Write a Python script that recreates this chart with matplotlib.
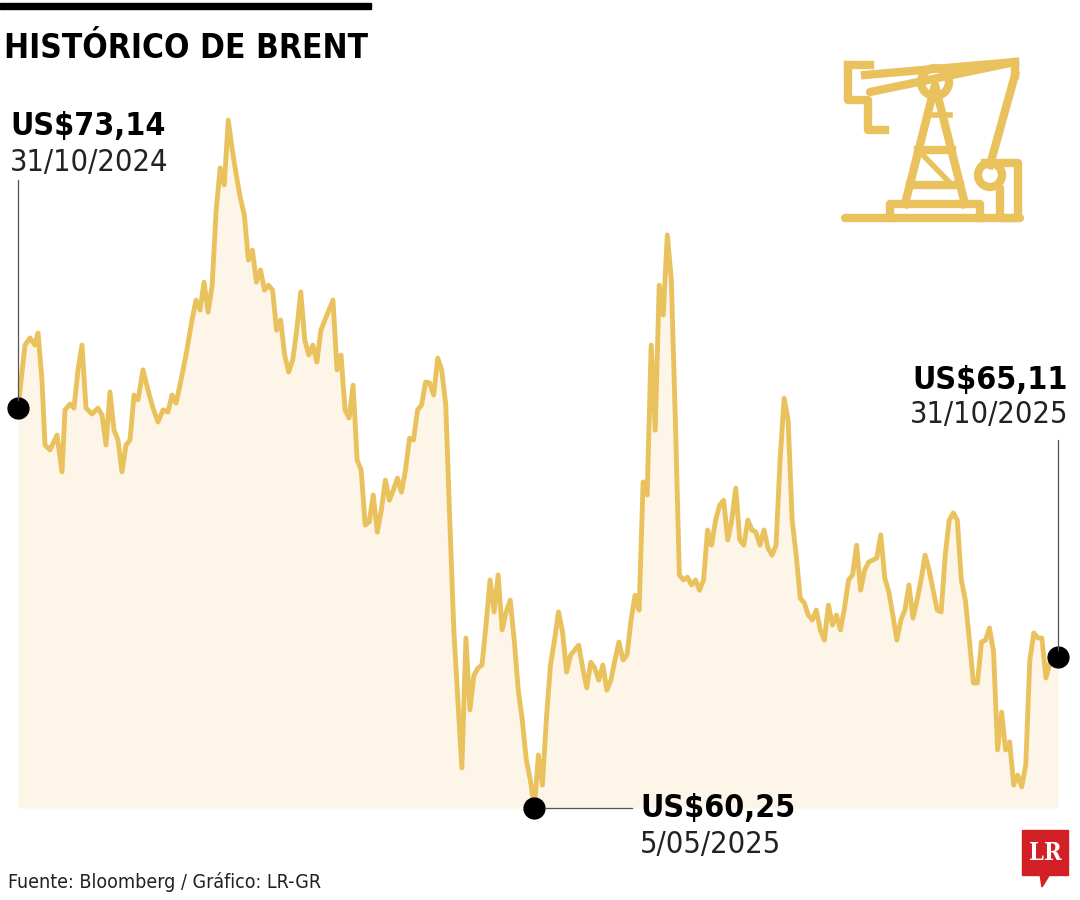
import numpy as np
import matplotlib
matplotlib.use("Agg")
import matplotlib.pyplot as plt
from matplotlib.patches import Rectangle, Circle, Polygon

# Brent daily close, US$ (31/10/2024 -> 31/10/2025)
prices = [73.14, 75.17, 75.40, 75.17, 75.56, 74.04, 71.95, 71.79, 72.27, 71.08, 73.08, 73.27,
          73.14, 74.37, 75.17, 73.14, 72.95, 73.14, 72.92, 71.95, 73.66, 72.43, 72.11, 71.08,
          71.95, 72.11, 73.56, 73.40, 74.37, 73.72, 73.14, 72.69, 73.08, 73.01, 73.56, 73.30,
          73.88, 74.85, 75.98, 76.62, 76.30, 77.20, 76.23, 77.10, 79.52, 80.88, 80.33, 82.42,
          81.46, 80.65, 79.91, 79.36, 77.91, 78.23, 77.20, 77.59, 76.94, 77.10, 76.94, 75.65,
          75.98, 74.85, 74.30, 74.69, 75.65, 76.88, 75.33, 74.85, 75.17, 74.62, 75.65, 75.98,
          76.30, 76.62, 74.37, 74.85, 73.08, 72.82, 73.88, 71.46, 71.14, 69.37, 69.47, 70.34,
          69.14, 69.85, 70.82, 70.17, 70.50, 70.88, 70.43, 71.14, 72.17, 72.11, 73.08, 73.24,
          73.98, 73.95, 73.56, 74.75, 74.37, 73.24, 69.53, 65.99, 63.73, 61.54, 65.73, 63.41,
          64.53, 64.76, 64.86, 66.15, 67.60, 66.57, 67.76, 65.99, 66.57, 66.95, 65.66, 64.05,
          63.08, 61.80, 61.15, 60.25, 61.96, 60.99, 63.15, 64.86, 65.66, 66.57, 65.92, 64.63,
          65.18, 65.34, 65.50, 64.76, 64.12, 64.95, 64.76, 64.37, 64.86, 64.05, 64.37, 65.02,
          65.60, 65.02, 65.18, 66.31, 67.11, 66.63, 70.76, 70.34, 75.17, 72.43, 77.10, 76.14,
          78.72, 77.27, 72.75, 67.76, 67.60, 67.69, 67.44, 67.60, 67.27, 67.60, 69.21, 68.72,
          69.53, 70.01, 70.17, 68.89, 69.53, 70.56, 68.89, 68.72, 69.53, 69.21, 69.14, 68.72,
          69.21, 68.63, 68.40, 68.72, 71.46, 73.46, 72.75, 69.53, 68.40, 67.02, 66.86, 66.47,
          66.31, 66.63, 65.99, 65.66, 66.79, 66.15, 66.47, 65.99, 66.70, 67.60, 67.76, 68.72,
          67.27, 67.92, 68.18, 68.24, 68.31, 69.05, 67.66, 67.21, 66.47, 65.66, 66.31, 66.63,
          67.44, 66.37, 66.95, 67.60, 68.40, 67.92, 67.27, 66.63, 66.57, 68.40, 69.53, 69.76,
          69.53, 67.60, 66.95, 65.66, 64.28, 64.28, 65.60, 65.66, 66.05, 65.28, 62.12, 63.34,
          62.12, 62.38, 60.99, 61.31, 60.93, 61.64, 65.02, 65.89, 65.73, 65.73, 64.44, 64.95,
          65.02, 65.11]
# trading-day position of the first readings (irregularly spaced), the rest are daily
first_days = [0, 1.75, 3, 4.25, 5, 6, 6.75, 8, 9.75, 11, 11.75, 13, 14, 15, 16, 17, 18.5, 20,
              21, 22, 23, 24, 25, 26, 27, 28, 29, 30, 31.25, 32.5, 33.75, 35, 36.25, 37.5,
              38.5, 39.5, 40.5, 42]
first_label, first_date = "US$73,14", "31/10/2024"
min_label, min_date = "US$60,25", "5/05/2025"
last_label, last_date = "US$65,11", "31/10/2025"

GOLD = "#e9c25e"
FILL = "#fdf5e8"
plt.rcParams["font.family"] = ["DejaVu Sans"]
plt.rcParams["font.stretch"] = "condensed"

W, H = 1080, 900
fig = plt.figure(figsize=(10.8, 9), dpi=100)
y = np.array(prices)
n_rest = len(y) - len(first_days)
x = np.concatenate([first_days, np.linspace(43.5, 260, n_rest)])
imin = int(np.argmin(y))

# main plot: 60.25 at pixel row 808, top row 100 -> 83.07
ax = fig.add_axes([18 / W, 1 - 808 / H, 1040 / W, 708 / H])
ax.set_xlim(0, 260)
ax.set_ylim(60.25, 83.07)
ax.axis("off")
ax.fill_between(x, y, 60.25, color=FILL, lw=0, zorder=1)
ax.plot(x, y, color=GOLD, lw=3.5, zorder=2, solid_joinstyle="round")
for i in (0, imin, len(y) - 1):
    ax.plot(x[i], y[i], "o", ms=15, color="black", zorder=5, clip_on=False)

# overlay in pixel coordinates for annotations and icon
ov = fig.add_axes([0, 0, 1, 1])
ov.set_xlim(0, W)
ov.set_ylim(H, 0)
ov.axis("off")
ov.patch.set_alpha(0)

ov.add_patch(Rectangle((0, 3), 371, 6, color="black"))
ov.text(4, 48, "HISTÓRICO DE BRENT", fontsize=24, fontweight="bold", va="center")

ov.plot([18, 18], [180, 400], color="#555555", lw=0.9)
ov.text(10, 127, first_label, fontsize=23, fontweight="bold", va="center")
ov.text(10, 162, first_date, fontsize=22, va="center", color="#222222")

ov.plot([545, 632], [808, 808], color="#555555", lw=0.9)
ov.text(640, 808, min_label, fontsize=23, fontweight="bold", va="center")
ov.text(640, 845, min_date, fontsize=22, va="center", color="#222222")

ov.plot([1058, 1058], [440, 650], color="#555555", lw=0.9)
ov.text(1068, 380, last_label, fontsize=23, fontweight="bold", va="center", ha="right")
ov.text(1068, 414, last_date, fontsize=22, va="center", ha="right", color="#222222")

ov.text(8, 882, "Fuente: Bloomberg / Gráfico: LR-GR", fontsize=14, va="center", color="#222222")

# LR logo
ov.add_patch(Rectangle((1022, 830), 46, 45, color="#d32027"))
ov.add_patch(Polygon([[1040, 874], [1050, 874], [1042, 887]], color="#d32027"))
ov.text(1045, 853, "LR", fontsize=17, fontweight="bold", color="white",
        ha="center", va="center", family="DejaVu Serif")

# pump jack icon
lw = 6
ov.plot([845, 1020], [218, 218], color=GOLD, lw=lw, solid_capstyle="round")
ov.plot([890, 890, 980, 980], [218, 204, 204, 218], color=GOLD, lw=lw)
ov.plot([905, 935, 965], [204, 85, 204], color=GOLD, lw=lw)
ov.plot([918, 952], [150, 150], color=GOLD, lw=lw)
ov.plot([910, 960], [185, 185], color=GOLD, lw=lw)
ov.plot([918, 952, 910], [150, 185, 185], color=GOLD, lw=4)
ov.plot([928, 950], [115, 115], color=GOLD, lw=4)
ov.plot([870, 1015], [92, 62], color=GOLD, lw=lw, solid_capstyle="round")
ov.plot([865, 1015], [75, 62], color=GOLD, lw=lw)
ov.plot([1015, 1015], [62, 75], color=GOLD, lw=lw)
ov.plot([848, 848, 868, 868, 885], [65, 100, 100, 130, 130], color=GOLD, lw=lw)
ov.plot([848, 870], [65, 65], color=GOLD, lw=lw)
ov.add_patch(Circle((935, 82), 14, fc="white", ec=GOLD, lw=lw))
ov.plot([1015, 990], [75, 165], color=GOLD, lw=lw)
ov.add_patch(Circle((990, 175), 12, fc="white", ec=GOLD, lw=lw))
ov.plot([985, 1018, 1018, 1000, 1000], [163, 163, 218, 218, 190], color=GOLD, lw=lw)

fig.savefig("out.png", dpi=100)
